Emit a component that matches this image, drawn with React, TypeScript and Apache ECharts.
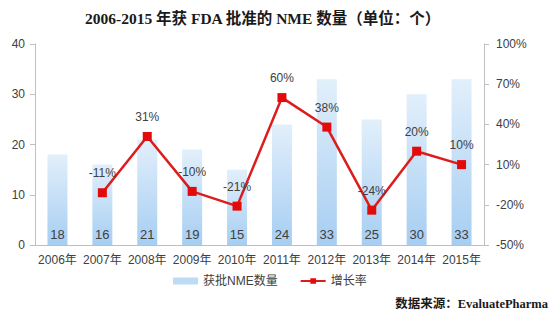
import React, { useEffect, useRef } from "react";
import * as echarts from "echarts";

const years = ["2006年", "2007年", "2008年", "2009年", "2010年", "2011年", "2012年", "2013年", "2014年", "2015年"];
const nmeCounts = [18, 16, 21, 19, 15, 24, 33, 25, 30, 33];
const growthRates: (number | null)[] = [null, -11, 31, -10, -21, 60, 38, -24, 20, 10];
const rightTicks = [-50, -20, 10, 40, 70, 100];
const RATE_OFFSET = 50; // right axis drawn on 0..150 scale, labels shifted back

const title = "2006-2015 年获 FDA 批准的 NME 数量（单位：个）";
const source = "数据来源：EvaluatePharma";

const SERIF = '"Liberation Serif", "Times New Roman", "Noto Sans CJK SC", serif';
const SANS = '"Liberation Sans", "Noto Sans CJK SC", sans-serif';

export default function App() {
  const ref = useRef<HTMLDivElement>(null);
  useEffect(() => {
    if (!ref.current) return;
    const chart = echarts.init(ref.current, null, { renderer: "svg" });
    const axisLineColor = "#bfbfbf";
    const textColor = "#404040";
    chart.setOption({
      animation: false,
      backgroundColor: "#ffffff",
      title: {
        text: title,
        left: 80,
        top: 6,
        textStyle: { fontFamily: SERIF, fontWeight: "bold", fontSize: 15.5, color: "#1a1a1a" },
      },
      grid: { left: 35, right: 70, top: 44, bottom: 81 },
      legend: {
        bottom: 34,
        left: 168,
        itemGap: 22,
        itemWidth: 25,
        itemHeight: 7,
        textStyle: { fontFamily: SANS, fontSize: 12, color: textColor },
        data: [
          { name: "获批NME数量", icon: "rect", itemStyle: { color: "#bcdcf6" } },
          { name: "增长率" },
        ],
      },
      xAxis: {
        type: "category",
        data: years,
        axisLine: { lineStyle: { color: axisLineColor } },
        axisTick: { lineStyle: { color: axisLineColor }, length: 5 },
        axisLabel: { fontFamily: SANS, fontSize: 12, color: textColor, margin: 9, interval: 0 },
      },
      yAxis: [
        {
          type: "value",
          min: 0,
          max: 40,
          interval: 10,
          splitLine: { show: false },
          axisLine: { show: true, lineStyle: { color: axisLineColor } },
          axisTick: { show: true, length: 5, lineStyle: { color: axisLineColor } },
          axisLabel: { fontFamily: SANS, fontSize: 12, color: textColor, margin: 10 },
        },
        {
          type: "value",
          min: 0,
          max: 150,
          interval: 30,
          splitLine: { show: false },
          axisLine: { show: true, lineStyle: { color: axisLineColor } },
          axisTick: { show: true, length: 5, lineStyle: { color: axisLineColor } },
          axisLabel: {
            fontFamily: SANS,
            fontSize: 12,
            color: textColor,
            margin: 12,
            formatter: (v: number) => {
              const t = Math.round(v - RATE_OFFSET);
              return rightTicks.includes(t) ? t + "%" : "";
            },
          },
        },
      ],
      series: [
        {
          name: "获批NME数量",
          type: "bar",
          barWidth: 20,
          data: nmeCounts,
          itemStyle: {
            color: new echarts.graphic.LinearGradient(0, 0, 0, 1, [
              { offset: 0, color: "#e2effb" },
              { offset: 1, color: "#a6cef2" },
            ]),
          },
          label: {
            show: true,
            position: "insideBottom",
            distance: 4,
            fontFamily: SANS,
            fontSize: 13,
            color: textColor,
          },
        },
        {
          name: "增长率",
          type: "line",
          yAxisIndex: 1,
          data: growthRates.map((r) => (r == null ? "-" : r + RATE_OFFSET)),
          symbol: "rect",
          symbolSize: 9,
          lineStyle: { color: "#dd1c1c", width: 2.5 },
          itemStyle: { color: "#e30a0a" },
          label: {
            show: true,
            position: "top",
            distance: 9,
            fontFamily: SANS,
            fontSize: 12,
            color: textColor,
            formatter: (p: any) => Math.round(p.value - RATE_OFFSET) + "%",
          },
        },
      ],
      graphic: [
        {
          type: "text",
          right: 6,
          top: 298,
          style: {
            text: source,
            font: `bold 12.5px ${SERIF}`,
            fill: "#1a1a1a",
          },
        },
      ],
    });
    return () => chart.dispose();
  }, []);
  return (
    <div
      ref={ref}
      style={{ position: "fixed", left: 0, top: 0, width: 554, height: 326 }}
    />
  );
}
